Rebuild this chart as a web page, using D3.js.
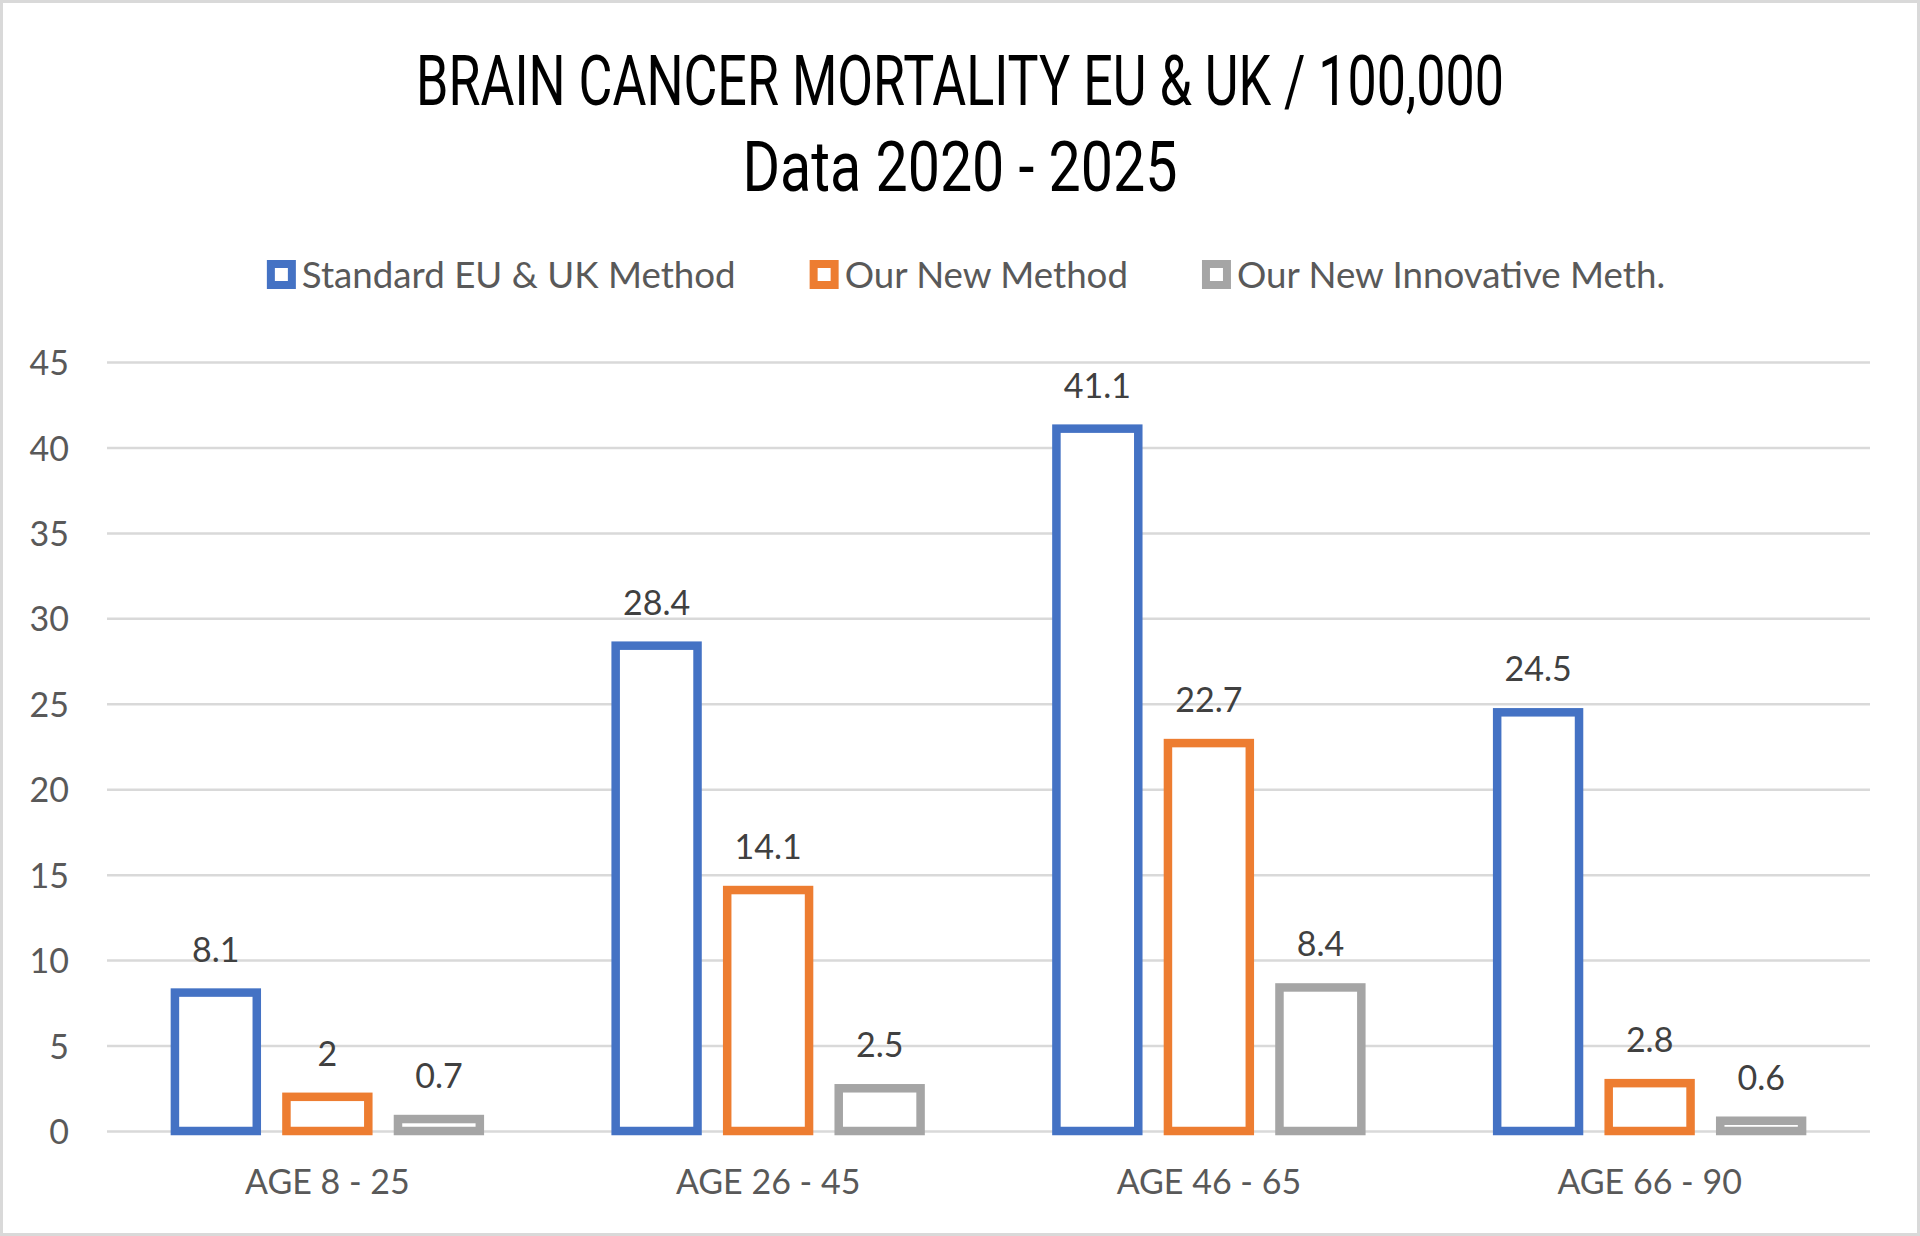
<!DOCTYPE html>
<html>
<head>
<meta charset="utf-8">
<script src="https://cdn.jsdelivr.net/npm/d3@7"></script>
<style>
  body { margin: 0; background: #fff; }
  svg { display: block; }
</style>
</head>
<body>
<div id="chart"></div>
<script>
// values
var categories = ['AGE 8 - 25', 'AGE 26 - 45', 'AGE 46 - 65', 'AGE 66 - 90']
var seriesNames = ['Standard EU & UK Method', 'Our New Method', 'Our New Innovative Meth.']
var standardMethod = [8.1, 28.4, 41.1, 24.5]
var newMethod = [2, 14.1, 22.7, 2.8]
var innovativeMethod = [0.7, 2.5, 8.4, 0.6]
var yTicks = [0, 5, 10, 15, 20, 25, 30, 35, 40, 45]
var titleLines = ['BRAIN CANCER MORTALITY EU & UK / 100,000', 'Data 2020 - 2025']

var colors = ['#4472C4', '#ED7D31', '#A5A5A5']
var seriesValues = [standardMethod, newMethod, innovativeMethod]

const W = 1920
const H = 1236
const plot = { left: 107, right: 1870, top: 362, bottom: 1131 }

var svg = d3
  .select('#chart')
  .append('svg')
  .attr('width', W)
  .attr('height', H)

// chart frame
svg
  .append('rect')
  .attr('x', 1.5)
  .attr('y', 1.5)
  .attr('width', W - 3)
  .attr('height', H - 3)
  .attr('fill', '#fff')
  .attr('stroke', '#D9D9D9')
  .attr('stroke-width', 3)

// Title

svg
  .selectAll('.title')
  .data(titleLines)
  .enter()
  .append('text')
  .attr('class', 'title')
  .attr('x', 960)
  .attr('y', function(d, i) {
    return i === 0 ? 105 : 191
  })
  .attr('text-anchor', 'middle')
  .attr('font-family', 'Roboto')
  .attr('font-size', 70)
  .attr('fill', '#000')
  .attr('textLength', function(d, i) {
    return i === 0 ? 1088 : 435
  })
  .attr('lengthAdjust', 'spacingAndGlyphs')
  .text(function(d) {
    return d
  })

// Scales

var yPositionScale = d3
  .scaleLinear()
  .domain([0, 45])
  .range([plot.bottom, plot.top])

var xPositionScale = d3
  .scaleBand()
  .domain(categories)
  .range([plot.left, plot.right])
  .padding(0)

var seriesScale = d3
  .scaleBand()
  .domain(seriesNames)
  .range([0, xPositionScale.bandwidth()])
  .paddingInner(0.266)
  .paddingOuter(0.609)

// Axes (y axis also draws the gridlines)

const yAxis = d3
  .axisLeft(yPositionScale)
  .tickValues(yTicks)
  .tickSize(-(plot.right - plot.left))
  .tickPadding(38)

var yG = svg
  .append('g')
  .attr('class', 'axis y-axis')
  .attr('transform', 'translate(' + plot.left + ',0)')
  .call(yAxis)
yG.select('.domain').remove()
yG.selectAll('line').attr('stroke', '#D9D9D9').attr('stroke-width', 2.5)
yG.selectAll('text')
  .attr('font-family', 'Lato')
  .attr('font-size', 34)
  .attr('fill', '#595959')
  .attr('dy', '0.37em')

const xAxis = d3
  .axisBottom(xPositionScale)
  .tickSize(0)
  .tickPadding(39)

var xG = svg
  .append('g')
  .attr('class', 'axis x-axis')
  .attr('transform', 'translate(0,' + plot.bottom + ')')
  .call(xAxis)
xG.select('.domain').remove()
xG.selectAll('text')
  .attr('font-family', 'Lato')
  .attr('font-size', 34)
  .attr('fill', '#595959')

// Bars

var rows = []
categories.forEach(function(cat, ci) {
  seriesNames.forEach(function(name, si) {
    rows.push({ category: cat, series: name, value: seriesValues[si][ci], color: colors[si] })
  })
})

svg
  .selectAll('.bar')
  .data(rows)
  .enter()
  .append('rect')
  .attr('class', 'bar')
  .attr('x', function(d) {
    return xPositionScale(d.category) + seriesScale(d.series)
  })
  .attr('y', function(d) {
    return yPositionScale(d.value)
  })
  .attr('width', seriesScale.bandwidth())
  .attr('height', function(d) {
    return yPositionScale(0) - yPositionScale(d.value)
  })
  .attr('fill', '#fff')
  .attr('stroke', function(d) {
    return d.color
  })
  .attr('stroke-width', 8.5)

// Data labels

svg
  .selectAll('.label')
  .data(rows)
  .enter()
  .append('text')
  .attr('class', 'label')
  .attr('x', function(d) {
    return xPositionScale(d.category) + seriesScale(d.series) + seriesScale.bandwidth() / 2
  })
  .attr('y', function(d) {
    return yPositionScale(d.value) - 31
  })
  .attr('text-anchor', 'middle')
  .attr('font-family', 'Lato')
  .attr('font-size', 34)
  .attr('fill', '#404040')
  .text(function(d) {
    return d.value
  })

// Legend

var legend = svg.append('g').attr('class', 'legend')
var items = legend
  .selectAll('.item')
  .data(seriesNames)
  .enter()
  .append('g')
  .attr('class', 'item')

items
  .append('rect')
  .attr('x', 4)
  .attr('y', 264)
  .attr('width', 21)
  .attr('height', 21)
  .attr('fill', '#fff')
  .attr('stroke', function(d, i) {
    return colors[i]
  })
  .attr('stroke-width', 8)

items
  .append('text')
  .attr('x', 35)
  .attr('y', 288)
  .attr('font-family', 'Lato')
  .attr('font-size', 36.7)
  .attr('fill', '#595959')
  .text(function(d) {
    return d
  })

// lay out legend items side by side, centred
var offset = 0
var widths = []
items.each(function() {
  var w = 35 + d3.select(this).select('text').node().getComputedTextLength()
  widths.push(w)
})
var total = d3.sum(widths) + 74 * (widths.length - 1)
var start = 966 - total / 2
items.attr('transform', function(d, i) {
  var x = start + offset
  offset += widths[i] + 74
  return 'translate(' + x + ',0)'
})
</script>
</body>
</html>
